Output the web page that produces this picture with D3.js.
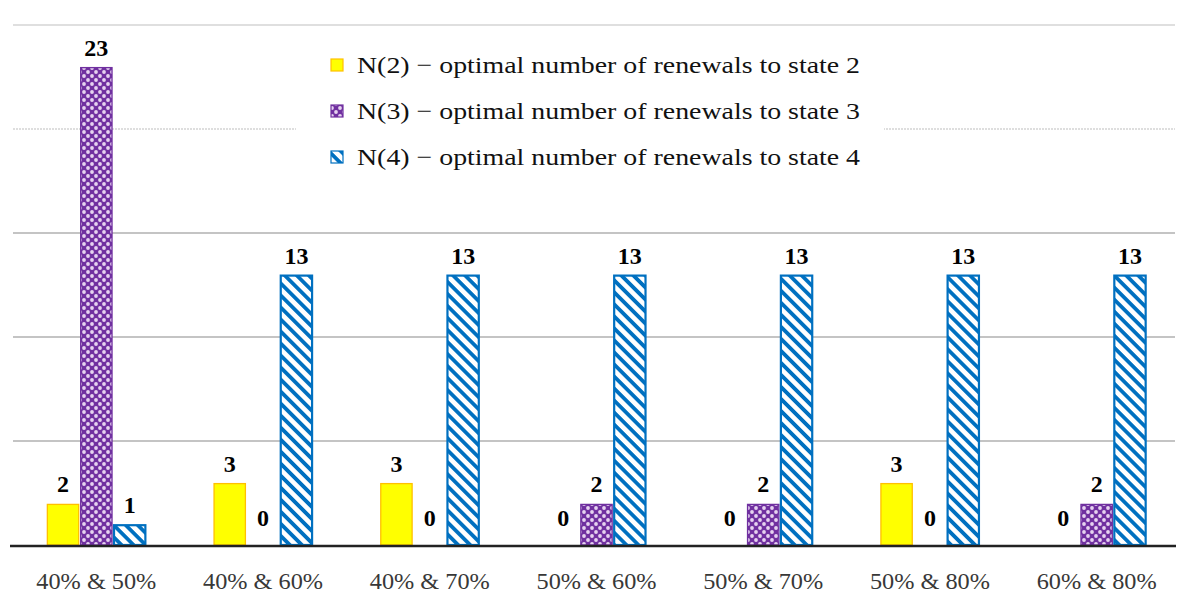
<!DOCTYPE html>
<html><head><meta charset="utf-8">
<script src="https://cdn.jsdelivr.net/npm/d3@7"></script>
<style>body{margin:0;background:#fff}svg{display:block}</style>
</head><body><svg id="c" width="1200" height="603"></svg>
<script>
const categories = ["40% & 50%","40% & 60%","40% & 70%","50% & 60%","50% & 70%","50% & 80%","60% & 80%"];
const seriesNames = ["N(2) − optimal number of renewals to state 2","N(3) − optimal number of renewals to state 3","N(4) − optimal number of renewals to state 4"];
const n2 = [2,3,3,0,0,3,0];
const n3 = [23,0,0,2,2,0,2];
const n4 = [1,13,13,13,13,13,13];
const gridTicks = [5,10,15,20,25];

(function(){
const svg = d3.select("#c");
const defs = svg.append("defs");
const pp = defs.append("pattern").attr("id","pPurple").attr("patternUnits","userSpaceOnUse").attr("width",8).attr("height",8);
pp.append("rect").attr("width",8).attr("height",8).attr("fill","#7030A0");
[[0,0],[8,0],[0,8],[8,8],[4,4]].forEach(([cx,cy])=>pp.append("circle").attr("cx",cx).attr("cy",cy).attr("r",1.9).attr("fill","#E6D3F0"));
const bp = defs.append("pattern").attr("id","pBlue").attr("patternUnits","userSpaceOnUse").attr("width",8.5).attr("height",8.5).attr("patternTransform","rotate(45)");
bp.append("rect").attr("width",8.5).attr("height",8.5).attr("fill","#fff");
bp.append("rect").attr("width",8.5).attr("height",3.8).attr("fill","#0070C0");

const left = 13, right = 1180, base = 545, plotTop = 25;
const x0 = d3.scaleBand().domain(categories).range([left,right]).padding(0);
const bw = x0.bandwidth();
const x1 = d3.scaleBand().domain([0,1,2]).range([bw*0.2, bw*0.8]);
const y = d3.scaleLinear().domain([0,25]).range([base, plotTop]);

svg.append("g").selectAll("line").data(gridTicks).join("line")
  .attr("x1",left).attr("x2",right-5)
  .attr("y1",d=>y(d)).attr("y2",d=>y(d))
  .attr("stroke",d=>d>=20?"#d4d4d4":"#b0b0b0")
  .attr("stroke-width",d=>d>=20?1.6:1.4)
  .attr("stroke-dasharray",d=>d===20?"2,1":null);

svg.append("rect").attr("x",296).attr("y",38).attr("width",588).attr("height",150).attr("fill","#fff");

const fills = ["#FFFF00","url(#pPurple)","url(#pBlue)"];
const strokes = ["#FFC000","#7030A0","#0070C0"];
const series = [n2,n3,n4];

const data = [];
categories.forEach((c,i)=>series.forEach((s,j)=>data.push({c,j,v:s[i]})));

svg.append("g").selectAll("rect").data(data.filter(d=>d.v>0)).join("rect")
  .attr("x",d=>x0(d.c)+x1(d.j)+1)
  .attr("y",d=>y(d.v)+1)
  .attr("width",x1.bandwidth()-2)
  .attr("height",d=>y(0)-y(d.v)-1)
  .attr("fill",d=>fills[d.j])
  .attr("stroke",d=>strokes[d.j])
  .attr("stroke-width",d=>d.j===2?2.2:1.3);

svg.append("g").selectAll("text").data(data).join("text")
  .attr("x",d=>x0(d.c)+x1(d.j)+x1.bandwidth()/2)
  .attr("y",d=>y(d.v)-(d.v===0?19:11))
  .attr("text-anchor","middle")
  .attr("font-family","Liberation Serif, serif")
  .attr("font-weight","bold")
  .attr("font-size",24)
  .attr("fill","#000")
  .text(d=>d.v);

svg.append("line").attr("x1",10).attr("x2",1176).attr("y1",base+1).attr("y2",base+1).attr("stroke","#222").attr("stroke-width",2.5);

svg.append("g").selectAll("text").data(categories).join("text")
  .attr("x",d=>x0(d)+bw/2)
  .attr("y",589)
  .attr("text-anchor","middle")
  .attr("font-family","Liberation Serif, serif")
  .attr("font-size",24)
  .attr("fill","#383838")
  .attr("textLength",120).attr("lengthAdjust","spacingAndGlyphs")
  .text(d=>d);

const leg = svg.append("g");
seriesNames.forEach((n,i)=>{
  const yy = 65 + i*46;
  leg.append("rect").attr("x",331).attr("y",yy-6).attr("width",12).attr("height",12)
    .attr("fill",fills[i]).attr("stroke",strokes[i]).attr("stroke-width",1.2);
  leg.append("text").attr("x",357).attr("y",yy+8)
    .attr("font-family","Liberation Serif, serif").attr("font-size",24).attr("fill","#111")
    .attr("textLength",503).attr("lengthAdjust","spacingAndGlyphs")
    .text(n);
});
})();
</script></body></html>
